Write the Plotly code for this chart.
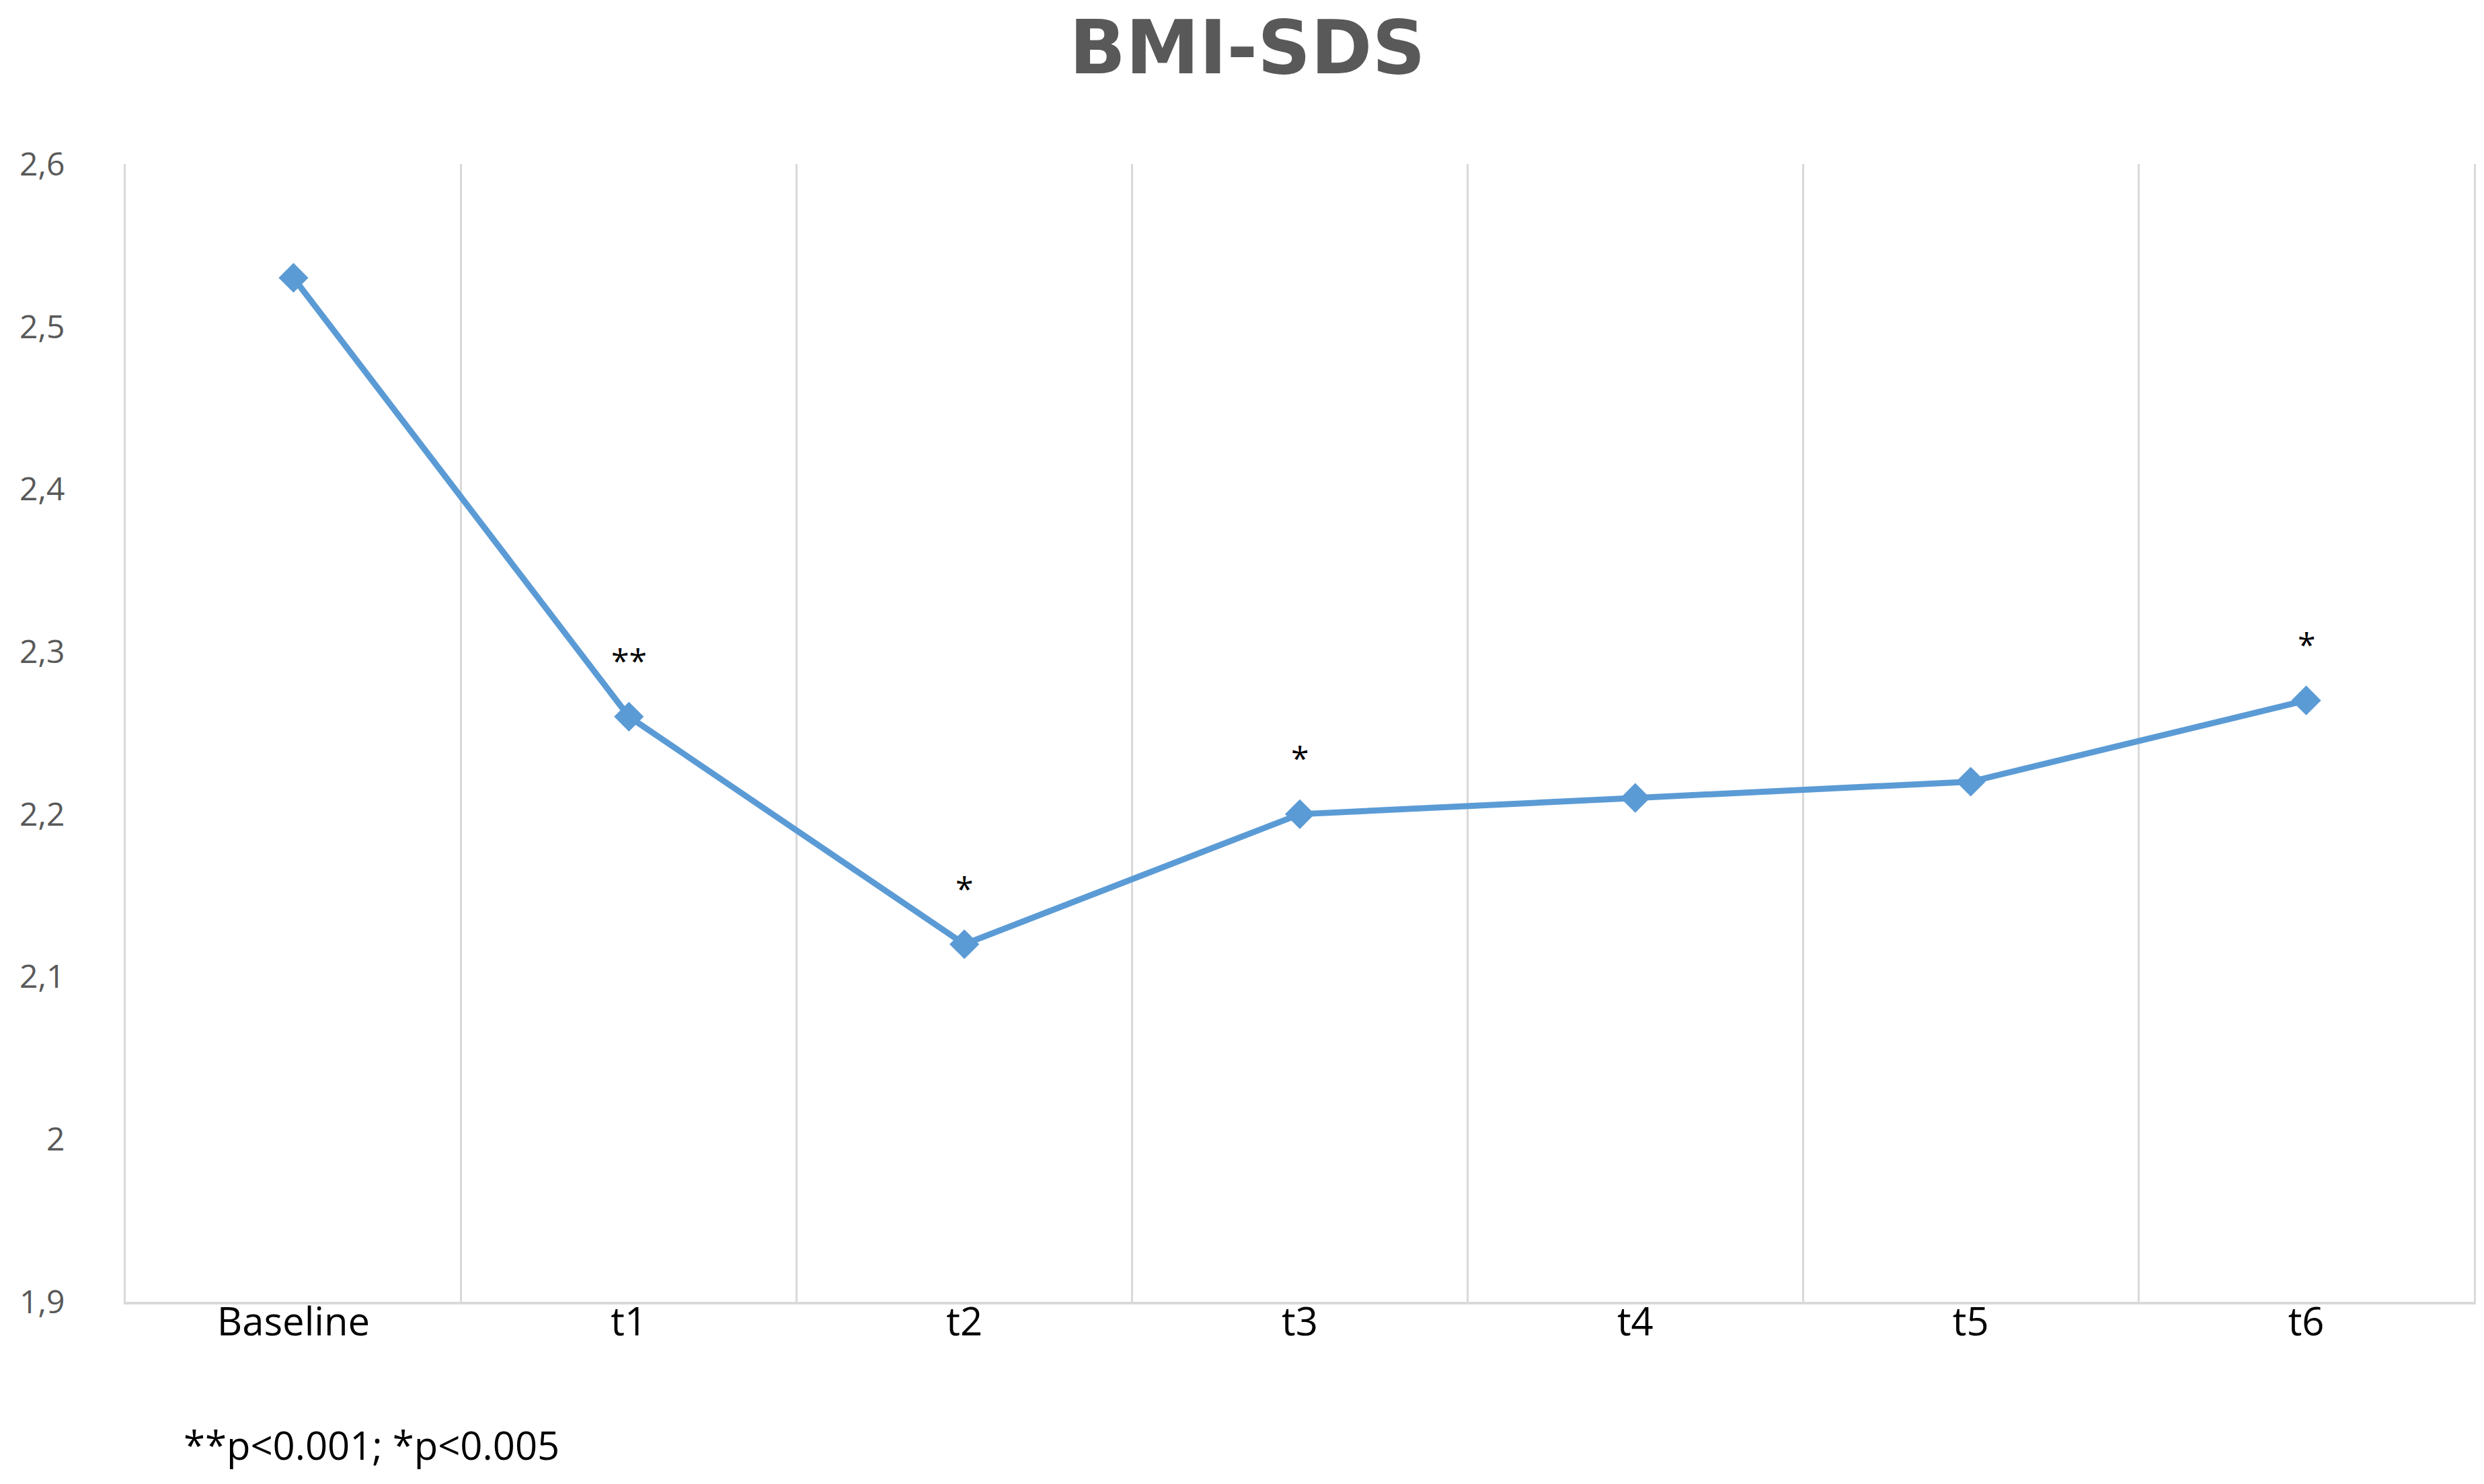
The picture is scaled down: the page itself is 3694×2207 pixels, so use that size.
import plotly.graph_objects as go

categories = ["Baseline", "t1", "t2", "t3", "t4", "t5", "t6"]
bmi_sds = [2.53, 2.26, 2.12, 2.20, 2.21, 2.22, 2.27]
significance = ["", "**", "*", "*", "", "", "*"]
y_tickvals = [1.9, 2.0, 2.1, 2.2, 2.3, 2.4, 2.5, 2.6]
y_ticktext = ["1,9", "2", "2,1", "2,2", "2,3", "2,4", "2,5", "2,6"]
footnote = "**p<0.001; *p<0.005"
title = "BMI-SDS"

W, H = 3694, 2207
L, R, T, B = 179, 23, 236, 279
xs = list(range(len(categories)))

fig = go.Figure()
fig.add_trace(go.Scatter(
    x=xs, y=bmi_sds, mode="lines+markers",
    line=dict(color="#5B9BD5", width=9),
    marker=dict(symbol="diamond", size=34, color="#5B9BD5"),
    showlegend=False, hoverinfo="skip",
))

for xi, yi, s in zip(xs, bmi_sds, significance):
    if s:
        fig.add_annotation(x=xi, y=yi, text=s, showarrow=False,
                           yanchor="middle", yshift=84,
                           font=dict(family="Open Sans", size=48, color="#000000"))

fig.add_annotation(xref="paper", yref="paper", x=(263 - L) / (W - L - R),
                   y=-(2140 - (H - B)) / (H - T - B), xanchor="left", yanchor="middle",
                   text=footnote, showarrow=False,
                   font=dict(family="Open Sans", size=58, color="#000000"))

fig.update_layout(
    width=W, height=H,
    paper_bgcolor="white", plot_bgcolor="white",
    margin=dict(l=L, r=R, t=T, b=B),
    title=dict(text=title, x=0.5, xref="container", xanchor="center",
               y=1 - 62 / H, yanchor="middle",
               font=dict(family="DejaVu Sans", size=110, color="#595959", weight="bold")),
    xaxis=dict(
        range=[-0.5, len(categories) - 0.5],
        tickmode="array", tickvals=xs, ticktext=categories,
        showgrid=False, zeroline=False,
        showline=True, linecolor="#D9D9D9", linewidth=4,
        ticks="", ticklabelstandoff=-24,
        tickfont=dict(family="Open Sans", size=58, color="#000000"),
        minor=dict(tickmode="linear", tick0=-0.5, dtick=1, showgrid=True,
                   gridcolor="#D9D9D9", gridwidth=3),
    ),
    yaxis=dict(
        range=[1.9, 2.6],
        tickmode="array", tickvals=y_tickvals, ticktext=y_ticktext,
        showgrid=False, zeroline=False,
        showline=True, linecolor="#D9D9D9", linewidth=3, mirror=True,
        ticks="", ticklabelstandoff=78,
        tickfont=dict(family="Open Sans", size=48, color="#595959"),
    ),
)

fig.write_html("out.html")
